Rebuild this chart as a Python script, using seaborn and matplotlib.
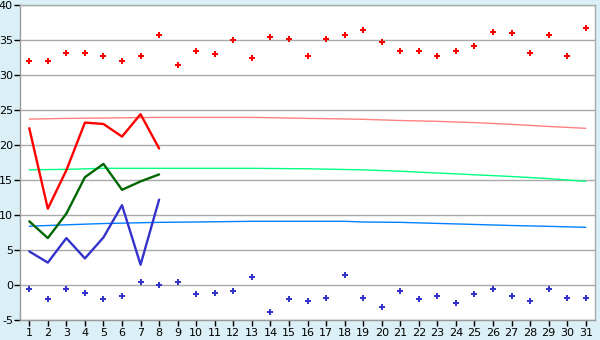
import matplotlib
matplotlib.use("Agg")
import matplotlib.pyplot as plt
import seaborn as sns
import pandas as pd

days = list(range(1, 32))
record_max = [32.0, 32.0, 33.1, 33.2, 32.7, 32.0, 32.7, 35.7, 31.5, 33.5,
              33.0, 35.0, 32.5, 35.4, 35.1, 32.7, 35.2, 35.7, 36.4, 34.7,
              33.4, 33.4, 32.7, 33.4, 34.2, 36.2, 36.0, 33.2, 35.7, 32.7, 36.7]
record_min = [-0.6, -2.0, -0.6, -1.2, -2.0, -1.6, 0.4, 0.0, 0.4, -1.3,
              -1.2, -0.9, 1.2, -3.8, -2.0, -2.3, -1.8, 1.5, -1.9, -3.1,
              -0.9, -2.0, -1.5, -2.6, -1.3, -0.6, -1.5, -2.3, -0.6, -1.9, -1.8]
act_days = [1, 2, 3, 4, 5, 6, 7, 8]
act_max = [22.4, 10.9, 16.4, 23.2, 23.0, 21.2, 24.4, 19.5]
act_mean = [9.1, 6.7, 10.2, 15.4, 17.3, 13.6, 14.8, 15.8]
act_min = [4.8, 3.2, 6.7, 3.8, 6.8, 11.4, 2.9, 12.2]
norm_days = [1, 3, 5, 8, 10, 13, 16, 18, 19, 21, 23, 25, 27, 29, 31]
norm_max = [23.7, 23.8, 23.85, 23.95, 23.95, 23.95, 23.8, 23.72, 23.67, 23.5, 23.38, 23.2, 22.95, 22.65, 22.38]
norm_mean = [16.45, 16.52, 16.67, 16.67, 16.67, 16.67, 16.6, 16.5, 16.45, 16.25, 16.0, 15.75, 15.5, 15.2, 14.8]
norm_min = [8.4, 8.6, 8.78, 8.95, 9.0, 9.1, 9.1, 9.1, 9.0, 8.95, 8.8, 8.65, 8.5, 8.38, 8.24]

sns.set_theme(style="white")
plt.rcParams['font.family'] = ['DejaVu Sans']
plt.rcParams['axes.unicode_minus'] = False

fig = plt.figure(figsize=(6, 3.4), dpi=100, facecolor="#daeff6")
ax = fig.add_axes([20/600, 1-320/340, 575/600, 315/340])
ax.set_facecolor("white")

ax.set_ylim(-5, 40)
ax.set_xlim(0.5, 31.5)
ax.set_yticks(range(-5, 41, 5))
ax.set_xticks(days)
ax.yaxis.grid(True, color="#aaaaaa", linewidth=1)
ax.set_axisbelow(True)

dn = pd.DataFrame({"d": norm_days, "mx": norm_max, "mn": norm_mean, "mi": norm_min})
sns.lineplot(data=dn, x="d", y="mx", ax=ax, color="#ff8080", linewidth=1)
sns.lineplot(data=dn, x="d", y="mn", ax=ax, color="#00ff80", linewidth=1)
sns.lineplot(data=dn, x="d", y="mi", ax=ax, color="#0080ff", linewidth=1)

da = pd.DataFrame({"d": act_days, "mx": act_max, "mn": act_mean, "mi": act_min})
sns.lineplot(data=da, x="d", y="mx", ax=ax, color="#ff0000", linewidth=1.7)
sns.lineplot(data=da, x="d", y="mn", ax=ax, color="#006600", linewidth=1.7)
sns.lineplot(data=da, x="d", y="mi", ax=ax, color="#3333cc", linewidth=1.7)

dr = pd.DataFrame({"d": days, "rx": record_max, "rn": record_min})
sns.scatterplot(data=dr, x="d", y="rx", ax=ax, color="#ff0000", marker="P", s=20, linewidth=0)
sns.scatterplot(data=dr, x="d", y="rn", ax=ax, color="#3333cc", marker="P", s=20, linewidth=0)

ax.set_xlabel("")
ax.set_ylabel("")
for s in ["left", "bottom", "right", "top"]:
    ax.spines[s].set_color("#aaaaaa")
    ax.spines[s].set_linewidth(1)
ax.spines["left"].set_color("#999999")
ax.spines["bottom"].set_color("#999999")
ax.tick_params(axis="both", which="both", direction="out", length=4, width=1,
               color="#000000", labelsize=8, labelcolor="#000000", pad=2,
               bottom=True, left=True)
ax.tick_params(axis="y", pad=1)

fig.savefig("out.png", dpi=100, facecolor=fig.get_facecolor())
